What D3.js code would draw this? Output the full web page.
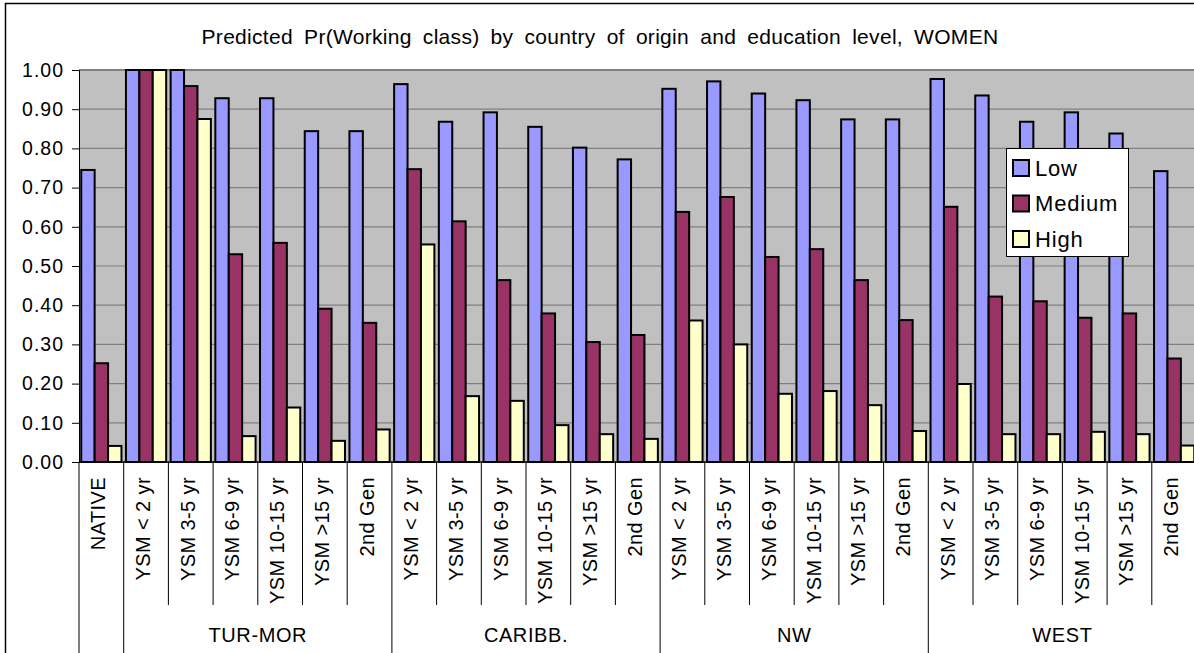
<!DOCTYPE html>
<html>
<head>
<meta charset="utf-8">
<script src="https://cdn.jsdelivr.net/npm/d3@7"></script>
<style>
  html, body { margin: 0; padding: 0; background: #fff; }
  svg { display: block; font-family: "Liberation Sans", Arial, sans-serif; }
</style>
</head>
<body>
<svg id="chart" width="1194" height="653"></svg>
<script>
// ---- data ----
const groupNames = ["", "TUR-MOR", "CARIBB.", "NW", "WEST"];
const groupSizes = [1, 6, 6, 6, 6];
const categories = [
  "NATIVE",
  "YSM < 2 yr", "YSM 3-5 yr", "YSM 6-9 yr", "YSM 10-15 yr", "YSM >15 yr", "2nd Gen",
  "YSM < 2 yr", "YSM 3-5 yr", "YSM 6-9 yr", "YSM 10-15 yr", "YSM >15 yr", "2nd Gen",
  "YSM < 2 yr", "YSM 3-5 yr", "YSM 6-9 yr", "YSM 10-15 yr", "YSM >15 yr", "2nd Gen",
  "YSM < 2 yr", "YSM 3-5 yr", "YSM 6-9 yr", "YSM 10-15 yr", "YSM >15 yr", "2nd Gen"
];
const seriesNames = ["Low", "Medium", "High"];
const low = [0.745,
  1.00, 1.00, 0.928, 0.928, 0.844, 0.844,
  0.964, 0.868, 0.892, 0.855, 0.802, 0.772,
  0.952, 0.971, 0.940, 0.923, 0.874, 0.874,
  0.977, 0.935, 0.868, 0.892, 0.838, 0.742];
const medium = [0.252,
  1.00, 0.959, 0.530, 0.559, 0.391, 0.355,
  0.747, 0.614, 0.464, 0.379, 0.306, 0.324,
  0.638, 0.676, 0.523, 0.543, 0.464, 0.362,
  0.651, 0.422, 0.410, 0.368, 0.379, 0.264];
const high = [0.041,
  1.00, 0.875, 0.066, 0.139, 0.054, 0.083,
  0.555, 0.168, 0.156, 0.094, 0.071, 0.059,
  0.361, 0.300, 0.174, 0.181, 0.145, 0.079,
  0.199, 0.071, 0.071, 0.077, 0.071, 0.042];
const yTicks = [0, 0.1, 0.2, 0.3, 0.4, 0.5, 0.6, 0.7, 0.8, 0.9, 1.0];
const titleText = "Predicted Pr(Working class) by country of origin and education level, WOMEN";
const colors = ["#9999FF", "#993366", "#FFFFCC"];

// ---- layout ----
const svg = d3.select("#chart");
const pLeft = 79, pRight = 1196.5, pTop = 70, pBottom = 462;
const idx = categories.map((c, i) => i);
const x = d3.scaleBand().domain(idx).range([pLeft, pRight]).paddingInner(0).paddingOuter(0);
const bw = x.bandwidth();
const x1 = d3.scaleBand().domain(seriesNames).range([bw * 0.05, bw * 0.95]).padding(0);
const y = d3.scaleLinear().domain([0, 1]).range([pBottom, pTop]);
const color = d3.scaleOrdinal().domain(seriesNames).range(colors);
const seriesData = [low, medium, high];

// outer chart border (left & top only visible)
svg.append("path").attr("d", `M5.5,653 L5.5,3.5 L1194,3.5`)
  .attr("fill", "none").attr("stroke", "#000").attr("stroke-width", 1.5);

// title
svg.append("text").attr("x", 600).attr("y", 44).attr("text-anchor", "middle")
  .attr("font-size", 21).attr("letter-spacing", 0.3).attr("word-spacing", 5)
  .attr("fill", "#000").text(titleText);

// plot background
svg.append("rect").attr("x", pLeft).attr("y", pTop).attr("width", pRight - pLeft).attr("height", pBottom - pTop)
  .attr("fill", "#C0C0C0");

// gridlines
svg.append("g").selectAll("line").data(yTicks.filter(d => d > 0)).join("line")
  .attr("x1", pLeft).attr("x2", pRight)
  .attr("y1", d => y(d)).attr("y2", d => y(d))
  .attr("stroke", "#808080").attr("stroke-width", d => d === 1 ? 2 : 1.2);

// bars
const rows = idx.map(i => ({ i, vals: seriesNames.map((s, k) => ({ s, v: seriesData[k][i] })) }));
svg.append("g").selectAll("g").data(rows).join("g")
  .attr("transform", d => `translate(${x(d.i)},0)`)
  .selectAll("rect").data(d => d.vals).join("rect")
  .attr("x", d => x1(d.s))
  .attr("y", d => y(d.v))
  .attr("width", x1.bandwidth())
  .attr("height", d => y(0) - y(d.v))
  .attr("fill", d => color(d.s))
  .attr("stroke", "#000").attr("stroke-width", 2);

// y axis
const yAxis = d3.axisLeft(y).tickValues(yTicks).tickFormat(d3.format(".2f")).tickSize(7).tickPadding(8);
const gy = svg.append("g").attr("transform", `translate(${pLeft},0)`).call(yAxis);
gy.select(".domain").attr("stroke", "#000").attr("stroke-width", 1);
gy.selectAll(".tick line").attr("stroke", "#000");
gy.selectAll("text").attr("font-size", 19.5).attr("letter-spacing", 1).attr("fill", "#000")
  .attr("font-family", "'Liberation Sans', Arial, sans-serif");

// x axis baseline
svg.append("line").attr("x1", pLeft).attr("x2", pRight).attr("y1", pBottom).attr("y2", pBottom)
  .attr("stroke", "#000").attr("stroke-width", 1.5);

// category separators and labels
const groupStarts = [];
let acc = 0;
groupSizes.forEach(n => { groupStarts.push(acc); acc += n; });
groupStarts.push(acc);
const boundaries = d3.range(categories.length + 1);
const bx = i => (i < categories.length ? x(i) : pRight);
svg.append("g").selectAll("line").data(boundaries).join("line")
  .attr("x1", d => bx(d)).attr("x2", d => bx(d))
  .attr("y1", pBottom).attr("y2", d => groupStarts.includes(d) ? 653 : 605)
  .attr("stroke", "#000").attr("stroke-width", 1);

svg.append("g").selectAll("text").data(idx).join("text")
  .attr("transform", i => `translate(${x(i) + bw / 2 - 3},477) rotate(-90)`)
  .attr("text-anchor", "end").attr("dominant-baseline", "central")
  .attr("font-size", 20).attr("letter-spacing", 0.4).attr("fill", "#000")
  .text(i => categories[i]);

// group labels
svg.append("g").selectAll("text").data(groupNames.map((g, k) => ({ g, k }))).join("text")
  .attr("x", d => (bx(groupStarts[d.k]) + bx(groupStarts[d.k + 1])) / 2)
  .attr("y", 642).attr("text-anchor", "middle")
  .attr("font-size", 20).attr("letter-spacing", 0.6).attr("fill", "#000")
  .text(d => d.g);

// legend
const lg = svg.append("g").attr("transform", "translate(1006,148)");
lg.append("rect").attr("x", 0.5).attr("y", 0.5).attr("width", 122).attr("height", 108)
  .attr("fill", "#fff").attr("stroke", "#000").attr("stroke-width", 1);
const li = lg.selectAll("g").data(seriesNames).join("g")
  .attr("transform", (d, k) => `translate(0,${20 + k * 35.5})`);
li.append("rect").attr("x", 7).attr("y", -8).attr("width", 16).attr("height", 16)
  .attr("fill", d => color(d)).attr("stroke", "#000").attr("stroke-width", 2);
li.append("text").attr("x", 29).attr("y", 0).attr("dominant-baseline", "central")
  .attr("font-size", 22).attr("letter-spacing", 0.8).attr("fill", "#000").text(d => d);
</script>
</body>
</html>
